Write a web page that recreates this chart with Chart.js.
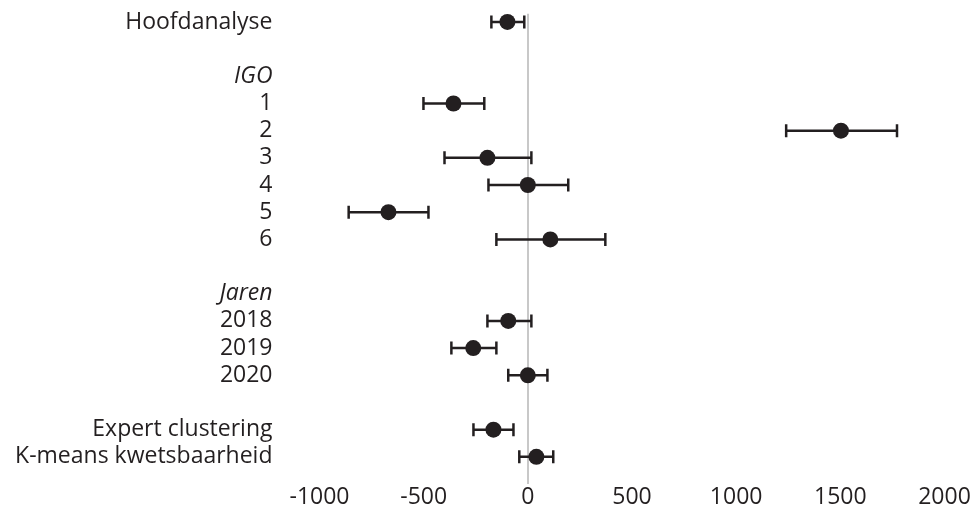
<!DOCTYPE html>
<html>
<head>
<meta charset="utf-8">
<script src="https://cdn.jsdelivr.net/npm/chart.js@4"></script>
<style>
  html, body { margin: 0; padding: 0; background: #ffffff; }
  #wrap { width: 972px; height: 515px; position: relative; }
</style>
</head>
<body>
<div id="wrap"><canvas id="c"></canvas></div>
<script>
// Row labels (top to bottom); blank rows are spacers
const rowLabels = ['Hoofdanalyse', '', 'IGO', '1', '2', '3', '4', '5', '6', '', 'Jaren', '2018', '2019', '2020', '', 'Expert clustering', 'K-means kwetsbaarheid'];
const italicRows = ['IGO', 'Jaren'];
// Rows that carry an estimate
const estRows = [0, 3, 4, 5, 6, 7, 8, 11, 12, 13, 15, 16];
const estimates = [-98, -357, 1503, -194, 0, -669, 108, -94, -262, 0, -165, 41];
const lowerCI   = [-175, -501, 1240, -400, -189, -860, -151, -194, -367, -94, -261, -41];
const upperCI   = [-17, -209, 1772, 17, 194, -477, 372, 17, -151, 94, -69, 122];
const xTicks = [-1000, -500, 0, 500, 1000, 1500, 2000];

const ink = '#231f20';
const fontFamily = '"Open Sans", "Noto Sans", sans-serif';
const fontSize = 23;

const meanPts = estRows.map((r, i) => ({ x: estimates[i], y: r }));
const capPts = [];
const whiskerPts = [];
estRows.forEach((r, i) => {
  capPts.push({ x: lowerCI[i], y: r }, { x: upperCI[i], y: r });
  whiskerPts.push({ x: lowerCI[i], y: r }, { x: upperCI[i], y: r }, { x: null, y: r });
});

new Chart(document.getElementById('c'), {
  type: 'scatter',
  data: {
    datasets: [
      { data: meanPts, pointRadius: 8, pointBackgroundColor: ink, pointBorderColor: ink, pointBorderWidth: 0, showLine: false },
      { data: capPts, pointStyle: 'line', rotation: 90, pointRadius: 6.5, pointBorderColor: ink, pointBorderWidth: 2.5, showLine: false },
      { data: whiskerPts, showLine: true, spanGaps: false, borderColor: ink, borderWidth: 2.5, pointRadius: 0 }
    ]
  },
  options: {
    responsive: true,
    maintainAspectRatio: false,
    animation: false,
    events: [],
    layout: { padding: { top: 13.8, right: 27.5, left: 0, bottom: 0 } },
    plugins: { legend: { display: false }, tooltip: { enabled: false } },
    scales: {
      x: {
        type: 'linear',
        min: -1000,
        max: 2000,
        afterBuildTicks: (s) => { s.ticks = xTicks.map(v => ({ value: v })); },
        afterFit: (s) => { s.height = 31; },
        border: { display: false },
        grid: {
          drawTicks: false,
          lineWidth: 2,
          color: (ctx) => (ctx.tick && ctx.tick.value === 0) ? '#c8c8c8' : 'rgba(0,0,0,0)'
        },
        ticks: {
          color: ink,
          font: { family: fontFamily, size: fontSize },
          padding: 0,
          maxRotation: 0,
          callback: (v) => String(v)
        }
      },
      y: {
        type: 'linear',
        reverse: true,
        min: -0.3,
        max: 17,
        afterBuildTicks: (s) => { s.ticks = rowLabels.map((_, i) => ({ value: i })); },
        afterFit: (s) => { s.width = 319.5; s.paddingTop = 0; s.paddingBottom = 0; },
        border: { display: false },
        grid: { display: false, drawTicks: false },
        ticks: {
          color: ink,
          padding: 47,
          autoSkip: false,
          callback: (v) => rowLabels[v],
          font: (ctx) => ({
            family: fontFamily,
            size: fontSize,
            style: (ctx.tick && italicRows.includes(rowLabels[ctx.tick.value])) ? 'italic' : 'normal'
          })
        }
      }
    }
  }
});
</script>
</body>
</html>
